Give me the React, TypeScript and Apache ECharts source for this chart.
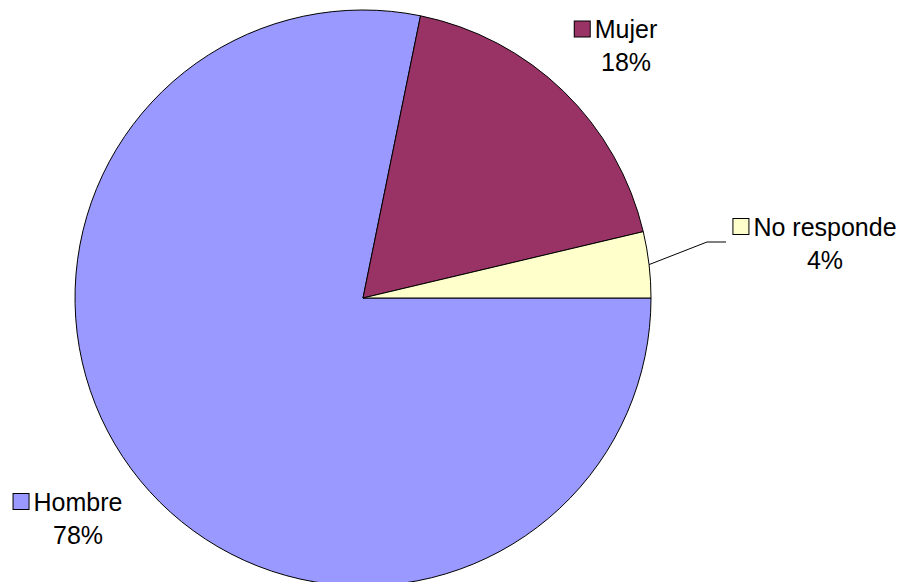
import React, { useEffect, useRef } from 'react';
import * as echarts from 'echarts';

const categories = ['Hombre', 'Mujer', 'No responde'];
const values = [78.2, 18.1, 3.7];
const colors = ['#9999FF', '#993366', '#FFFFCC'];

export default function App() {
  const ref = useRef<HTMLDivElement>(null);
  useEffect(() => {
    const chart = echarts.init(ref.current!, null, { renderer: 'svg' });
    const font = 'Liberation Sans, Arial, sans-serif';
    const fs = 25;
    const sqW = 15;
    const gap = 5;
    const labelPos = [
      [68, 518],
      [616, 45.5],
      [815, 243],
    ];
    const rich: any = {
      name: { fontSize: fs, fontFamily: font, color: '#000', lineHeight: 33, padding: [0, 0, 0, gap] },
      pct: { fontSize: fs, fontFamily: font, color: '#000', lineHeight: 33, padding: [0, 0, 0, sqW + gap] },
    };
    colors.forEach((c, i) => {
      rich['sq' + i] = { width: sqW, height: sqW, backgroundColor: c, borderColor: '#000', borderWidth: 1 };
    });
    const data = categories.map((name, i) => ({
      name,
      value: values[i],
      itemStyle: { color: colors[i] },
      labelLine: { show: i === 2 },
    }));
    chart.setOption({
      animation: false,
      backgroundColor: '#fff',
      series: [
        {
          type: 'pie',
          silent: true,
          center: [363, 298],
          radius: 288,
          startAngle: 0,
          clockwise: true,
          avoidLabelOverlap: false,
          itemStyle: { borderColor: '#000', borderWidth: 1 },
          emphasis: { disabled: true },
          label: {
            show: true,
            position: 'outside',
            align: 'center',
            formatter: (p: any) => `{sq${p.dataIndex}|}{name|${p.name}}\n{pct|${Math.round(p.percent)}%}`,
            rich,
          },
          labelLine: {
            show: false,
            lineStyle: { color: '#000', width: 1 },
            length: 20,
            length2: 18,
          },
          labelLayout: (params: any) => {
            const pos = labelPos[params.dataIndex];
            const res: any = { x: pos[0], y: pos[1], align: 'center', verticalAlign: 'middle' };
            if (params.dataIndex === 2 && params.labelLinePoints) {
              const p0 = params.labelLinePoints[0];
              res.labelLinePoints = [p0, [707, 242], [726, 242]];
            }
            return res;
          },
          data,
        },
      ],
    });
    return () => chart.dispose();
  }, []);
  return <div ref={ref} style={{ position: 'fixed', left: 0, top: 0, width: 900, height: 582 }} />;
}
